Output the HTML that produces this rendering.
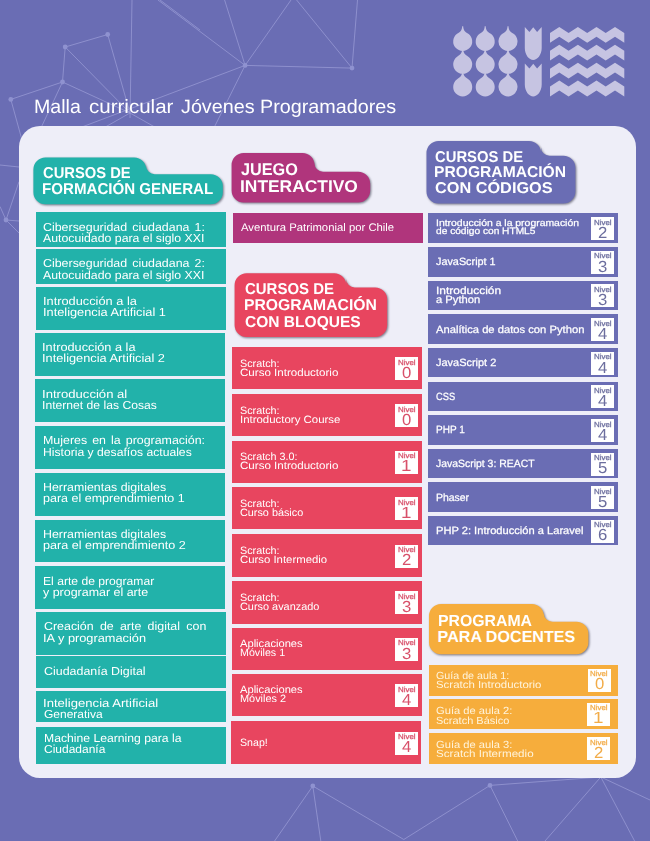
<!DOCTYPE html>
<html lang="es"><head><meta charset="utf-8"><title>Malla curricular Jóvenes Programadores</title><style>
html,body{margin:0;padding:0}
body{width:650px;height:841px;position:relative;overflow:hidden;background:#6a6db4;font-family:"Liberation Sans",sans-serif}
.bg{position:absolute;left:0;top:0}
.panel{position:absolute;left:19px;top:126px;width:617px;height:652px;background:#eeeef8;border-radius:21px}
.r{position:absolute}
.n{position:absolute;width:23px;height:23px;background:#fff}
.t{position:absolute;white-space:nowrap;line-height:1;color:#fff;text-rendering:geometricPrecision;transform-origin:0 0}
.s{-webkit-text-stroke:.25px currentColor}
.h{position:absolute;left:0;top:0;filter:drop-shadow(1.3px 1.4px 1.3px rgba(40,40,60,.6))}
</style></head><body>
<svg class="bg" width="650" height="841" viewBox="0 0 650 841"><g stroke="#a6a8de" stroke-width="0.7" fill="none" opacity="0.85"><line x1="107.7" y1="34.5" x2="65.2" y2="47"/><line x1="65.2" y1="47" x2="62.5" y2="82"/><line x1="62.5" y1="82" x2="10.8" y2="99.4"/><line x1="107.7" y1="34.5" x2="130" y2="113"/><line x1="65.2" y1="47" x2="130" y2="113"/><line x1="62.5" y1="82" x2="130" y2="113"/><line x1="132" y1="0" x2="130" y2="118"/><line x1="10.8" y1="99.4" x2="22" y2="140"/><line x1="62.5" y1="82" x2="40" y2="130"/><line x1="160" y1="0" x2="200" y2="30"/><line x1="158" y1="0" x2="245.1" y2="65.4"/><line x1="224.6" y1="0" x2="245.1" y2="65.4"/><line x1="291" y1="0" x2="245.1" y2="65.4"/><line x1="296.6" y1="0" x2="352" y2="68.1"/><line x1="357.5" y1="0" x2="352" y2="68.1"/><line x1="245.1" y1="65.4" x2="352" y2="68.1"/><line x1="245.1" y1="65.4" x2="73.9" y2="130"/><line x1="245.1" y1="65.4" x2="212.9" y2="130"/><line x1="130" y1="113" x2="100" y2="130"/><line x1="130" y1="113" x2="160" y2="130"/><line x1="6" y1="220" x2="19" y2="181.7"/><line x1="6" y1="220" x2="19" y2="221"/><line x1="6" y1="220" x2="19" y2="233"/><line x1="6" y1="220" x2="0" y2="206.5"/><line x1="0" y1="165" x2="19" y2="167"/><line x1="312.8" y1="786" x2="274.6" y2="841"/><line x1="312.8" y1="786" x2="320.8" y2="841"/><line x1="312.8" y1="786" x2="403.8" y2="839.5"/><line x1="403.8" y1="839.5" x2="490" y2="785.4"/><line x1="490" y1="785.4" x2="517.7" y2="841"/><line x1="490" y1="785.4" x2="600.8" y2="777"/><line x1="600.8" y1="777" x2="545" y2="841"/><line x1="600.8" y1="777" x2="634.6" y2="841"/><line x1="600.8" y1="777" x2="650" y2="800"/></g><g fill="#8f92d0"><circle cx="107.7" cy="34.5" r="2.4"/><circle cx="65.2" cy="47" r="2.4"/><circle cx="62.5" cy="82" r="2.4"/><circle cx="10.8" cy="99.4" r="2.4"/><circle cx="312.8" cy="786" r="2.4"/><circle cx="490" cy="785.4" r="2.4"/><circle cx="245.1" cy="65.4" r="2.4"/><circle cx="352" cy="68.1" r="2.4"/><circle cx="6" cy="220" r="2.4"/></g><g fill="#c6c4e2"><path d="M462.2,26.20 H463.2 C463.5,30.20 464.5,31.70 468.3,33.83 A9.5,9.5 0 1 1 457.09999999999997,33.83 C460.9,31.70 461.9,30.20 462.2,26.20 Z"/><path d="M462.2,49.00 H463.2 C463.5,53.00 464.5,54.50 468.3,56.63 A9.5,9.5 0 1 1 457.09999999999997,56.63 C460.9,54.50 461.9,53.00 462.2,49.00 Z"/><path d="M462.2,71.60 H463.2 C463.5,75.60 464.5,77.10 468.3,79.23 A9.5,9.5 0 1 1 457.09999999999997,79.23 C460.9,77.10 461.9,75.60 462.2,71.60 Z"/><path d="M484.7,26.20 H485.7 C486.0,30.20 487.0,31.70 490.8,33.83 A9.5,9.5 0 1 1 479.59999999999997,33.83 C483.4,31.70 484.4,30.20 484.7,26.20 Z"/><path d="M484.7,49.00 H485.7 C486.0,53.00 487.0,54.50 490.8,56.63 A9.5,9.5 0 1 1 479.59999999999997,56.63 C483.4,54.50 484.4,53.00 484.7,49.00 Z"/><path d="M484.7,71.60 H485.7 C486.0,75.60 487.0,77.10 490.8,79.23 A9.5,9.5 0 1 1 479.59999999999997,79.23 C483.4,77.10 484.4,75.60 484.7,71.60 Z"/><path d="M507.5,26.20 H508.5 C508.8,30.20 509.8,31.70 513.6,33.83 A9.5,9.5 0 1 1 502.4,33.83 C506.2,31.70 507.2,30.20 507.5,26.20 Z"/><path d="M507.5,49.00 H508.5 C508.8,53.00 509.8,54.50 513.6,56.63 A9.5,9.5 0 1 1 502.4,56.63 C506.2,54.50 507.2,53.00 507.5,49.00 Z"/><path d="M507.5,71.60 H508.5 C508.8,75.60 509.8,77.10 513.6,79.23 A9.5,9.5 0 1 1 502.4,79.23 C506.2,77.10 507.2,75.60 507.5,71.60 Z"/><path d="M524.8,26.9 L529.4,31.9 L533.25,27.2 L537.1,31.9 L541.7,26.9 V47.9 C541.7,54.9 537.2,59.9 533.25,59.9 C529.2,59.9 524.8,54.9 524.8,47.9 Z"/><path d="M524.8,63.5 L529.4,68.5 L533.25,63.8 L537.1,68.5 L541.7,63.5 V84.5 C541.7,91.5 537.2,96.5 533.25,96.5 C529.2,96.5 524.8,91.5 524.8,84.5 Z"/><polygon points="550.0,33.0 559.3,27.0 568.6,33.0 577.9,27.0 587.2,33.0 596.5,27.0 605.7,33.0 615.0,27.0 624.3,33.0 624.3,42.8 615.0,36.8 605.7,42.8 596.5,36.8 587.2,42.8 577.9,36.8 568.6,42.8 559.3,36.8 550.0,42.8"/><polygon points="550.0,50.8 559.3,44.8 568.6,50.8 577.9,44.8 587.2,50.8 596.5,44.8 605.7,50.8 615.0,44.8 624.3,50.8 624.3,60.6 615.0,54.6 605.7,60.6 596.5,54.6 587.2,60.6 577.9,54.6 568.6,60.6 559.3,54.6 550.0,60.6"/><polygon points="550.0,68.8 559.3,62.8 568.6,68.8 577.9,62.8 587.2,68.8 596.5,62.8 605.7,68.8 615.0,62.8 624.3,68.8 624.3,78.6 615.0,72.6 605.7,78.6 596.5,72.6 587.2,78.6 577.9,72.6 568.6,78.6 559.3,72.6 550.0,78.6"/><polygon points="550.0,86.6 559.3,80.6 568.6,86.6 577.9,80.6 587.2,86.6 596.5,80.6 605.7,86.6 615.0,80.6 624.3,86.6 624.3,96.4 615.0,90.4 605.7,96.4 596.5,90.4 587.2,96.4 577.9,90.4 568.6,96.4 559.3,90.4 550.0,96.4"/></g></svg>
<div class="panel"></div>
<div class="r" style="left:36.2px;top:212.1px;width:190.0px;height:34.5px;background:#22b2aa"></div>
<div class="r" style="left:36.2px;top:249.0px;width:190.0px;height:34.7px;background:#22b2aa"></div>
<div class="r" style="left:36.2px;top:287.0px;width:190.0px;height:42.7px;background:#22b2aa"></div>
<div class="r" style="left:35.0px;top:333.3px;width:189.8px;height:42.4px;background:#22b2aa"></div>
<div class="r" style="left:35.0px;top:379.4px;width:189.8px;height:42.4px;background:#22b2aa"></div>
<div class="r" style="left:35.0px;top:426.0px;width:189.8px;height:42.7px;background:#22b2aa"></div>
<div class="r" style="left:35.0px;top:473.0px;width:189.8px;height:42.6px;background:#22b2aa"></div>
<div class="r" style="left:35.0px;top:519.7px;width:189.8px;height:42.6px;background:#22b2aa"></div>
<div class="r" style="left:35.0px;top:566.1px;width:189.8px;height:42.7px;background:#22b2aa"></div>
<div class="r" style="left:36.2px;top:612.3px;width:190.0px;height:42.3px;background:#22b2aa"></div>
<div class="r" style="left:36.2px;top:656.3px;width:190.0px;height:31.4px;background:#22b2aa"></div>
<div class="r" style="left:36.2px;top:691.3px;width:190.0px;height:31.0px;background:#22b2aa"></div>
<div class="r" style="left:36.2px;top:727.0px;width:190.0px;height:36.8px;background:#22b2aa"></div>
<div class="r" style="left:233.1px;top:213.2px;width:189.9px;height:29.4px;background:#b0357c"></div>
<div class="r" style="left:232.1px;top:347.3px;width:189.7px;height:41.9px;background:#e8455f"></div>
<div class="r" style="left:232.1px;top:393.9px;width:189.7px;height:42.3px;background:#e8455f"></div>
<div class="r" style="left:232.1px;top:440.6px;width:189.7px;height:42.0px;background:#e8455f"></div>
<div class="r" style="left:232.1px;top:487.2px;width:189.7px;height:42.1px;background:#e8455f"></div>
<div class="r" style="left:232.1px;top:534.0px;width:189.7px;height:42.7px;background:#e8455f"></div>
<div class="r" style="left:232.1px;top:581.0px;width:189.7px;height:42.5px;background:#e8455f"></div>
<div class="r" style="left:232.1px;top:627.6px;width:189.7px;height:42.3px;background:#e8455f"></div>
<div class="r" style="left:232.1px;top:674.1px;width:189.7px;height:42.1px;background:#e8455f"></div>
<div class="r" style="left:231.0px;top:721.0px;width:189.8px;height:42.7px;background:#e8455f"></div>
<div class="r" style="left:428.0px;top:213.3px;width:189.8px;height:29.5px;background:#6a6db4"></div>
<div class="r" style="left:428.0px;top:247.2px;width:189.8px;height:29.4px;background:#6a6db4"></div>
<div class="r" style="left:428.0px;top:280.5px;width:189.8px;height:29.3px;background:#6a6db4"></div>
<div class="r" style="left:428.0px;top:314.0px;width:189.8px;height:29.8px;background:#6a6db4"></div>
<div class="r" style="left:428.0px;top:348.2px;width:189.8px;height:29.3px;background:#6a6db4"></div>
<div class="r" style="left:428.0px;top:381.5px;width:189.8px;height:29.2px;background:#6a6db4"></div>
<div class="r" style="left:428.0px;top:415.2px;width:189.8px;height:29.5px;background:#6a6db4"></div>
<div class="r" style="left:428.0px;top:449.1px;width:189.8px;height:29.3px;background:#6a6db4"></div>
<div class="r" style="left:428.0px;top:482.3px;width:189.8px;height:29.3px;background:#6a6db4"></div>
<div class="r" style="left:428.0px;top:516.1px;width:189.8px;height:29.4px;background:#6a6db4"></div>
<div class="r" style="left:428.5px;top:664.8px;width:189.5px;height:30.8px;background:#f6ad3c"></div>
<div class="r" style="left:428.5px;top:699.3px;width:189.5px;height:29.9px;background:#f6ad3c"></div>
<div class="r" style="left:428.5px;top:733.2px;width:189.5px;height:30.7px;background:#f6ad3c"></div>
<svg class="h" width="650" height="841" viewBox="0 0 650 841"><path d="M45.4,157.6 H134.2 A12,12 0 0 1 146.2,169.6 V165.8 A8.5,8.5 0 0 0 154.7,174.3 H210.8 A12,12 0 0 1 222.8,186.3 V192.2 A12,12 0 0 1 210.8,204.2 H45.4 A12,12 0 0 1 33.4,192.2 V169.6 A12,12 0 0 1 45.4,157.6 Z" fill="#22b2aa"/><path d="M243.6,153 H302.5 A12,12 0 0 1 314.5,165 V163.3 A8.5,8.5 0 0 0 323.0,171.8 H358.2 A12,12 0 0 1 370.2,183.8 V190.6 A12,12 0 0 1 358.2,202.6 H243.6 A12,12 0 0 1 231.6,190.6 V165 A12,12 0 0 1 243.6,153 Z" fill="#b0357c"/><path d="M438.5,141 H529 A12,12 0 0 1 541,153 V147.3 A8.5,8.5 0 0 0 549.5,155.8 H563.4 A12,12 0 0 1 575.4,167.8 V191.6 A12,12 0 0 1 563.4,203.6 H438.5 A12,12 0 0 1 426.5,191.6 V153 A12,12 0 0 1 438.5,141 Z" fill="#6a6db4"/><path d="M246.6,273.2 H334.2 A12,12 0 0 1 346.2,285.2 V279.0 A8.5,8.5 0 0 0 354.7,287.5 H375.2 A12,12 0 0 1 387.2,299.5 V325 A12,12 0 0 1 375.2,337 H246.6 A12,12 0 0 1 234.6,325 V285.2 A12,12 0 0 1 246.6,273.2 Z" fill="#e8455f"/><path d="M441,604 H531.8 A12,12 0 0 1 543.8,616 V613.3 A8.5,8.5 0 0 0 552.3,621.8 H576.4 A12,12 0 0 1 588.4,633.8 V642.3 A12,12 0 0 1 576.4,654.3 H441 A12,12 0 0 1 429,642.3 V616 A12,12 0 0 1 441,604 Z" fill="#f6ad3c"/></svg>
<div class="n" style="left:395.3px;top:357.4px"></div>
<div class="n" style="left:395.3px;top:404.1px"></div>
<div class="n" style="left:395.3px;top:450.7px"></div>
<div class="n" style="left:395.3px;top:497.4px"></div>
<div class="n" style="left:395.3px;top:544.5px"></div>
<div class="n" style="left:395.3px;top:591.4px"></div>
<div class="n" style="left:395.3px;top:637.9px"></div>
<div class="n" style="left:395.3px;top:684.3px"></div>
<div class="n" style="left:395.3px;top:731.5px"></div>
<div class="n" style="left:591.0px;top:217.1px"></div>
<div class="n" style="left:591.0px;top:250.9px"></div>
<div class="n" style="left:591.0px;top:284.1px"></div>
<div class="n" style="left:591.0px;top:317.9px"></div>
<div class="n" style="left:591.0px;top:351.9px"></div>
<div class="n" style="left:591.0px;top:385.1px"></div>
<div class="n" style="left:591.0px;top:418.9px"></div>
<div class="n" style="left:591.0px;top:452.8px"></div>
<div class="n" style="left:591.0px;top:486.0px"></div>
<div class="n" style="left:591.0px;top:519.8px"></div>
<div class="n" style="left:587.8px;top:668.6px"></div>
<div class="n" style="left:587.0px;top:702.6px"></div>
<div class="n" style="left:587.0px;top:736.9px"></div>
<span class="t" style="left:34.4px;top:98px;font-size:19.2px;transform:scaleX(1.020)">Malla</span>
<span class="t" style="left:88.5px;top:98px;font-size:19.2px;transform:scaleX(1.070)">curricular</span>
<span class="t" style="left:180.6px;top:98px;font-size:19.2px;transform:scaleX(1.030)">Jóvenes</span>
<span class="t" style="left:260.0px;top:98px;font-size:19.2px;transform:scaleX(1.030)">Programadores</span>
<span class="t" style="left:43.4px;top:222px;font-size:11.6px;word-spacing:1.50px;transform:scaleX(1.070)">Ciberseguridad ciudadana 1:</span>
<span class="t" style="left:43.4px;top:233px;font-size:11.6px;transform:scaleX(1.061)">Autocuidado para el siglo XXI</span>
<span class="t" style="left:43.4px;top:258px;font-size:11.6px;word-spacing:1.50px;transform:scaleX(1.070)">Ciberseguridad ciudadana 2:</span>
<span class="t" style="left:43.4px;top:270px;font-size:11.6px;transform:scaleX(1.061)">Autocuidado para el siglo XXI</span>
<span class="t" style="left:43.0px;top:296px;font-size:11.6px;transform:scaleX(1.103)">Introducción a la</span>
<span class="t" style="left:43.0px;top:307px;font-size:11.6px;transform:scaleX(1.103)">Inteligencia Artificial 1</span>
<span class="t" style="left:42.0px;top:342px;font-size:11.6px;transform:scaleX(1.099)">Introducción a la</span>
<span class="t" style="left:42.0px;top:353px;font-size:11.6px;transform:scaleX(1.103)">Inteligencia Artificial 2</span>
<span class="t" style="left:42.0px;top:389px;font-size:11.6px;transform:scaleX(1.131)">Introducción al</span>
<span class="t" style="left:42.1px;top:400px;font-size:11.6px;transform:scaleX(1.048)">Internet de las Cosas</span>
<span class="t" style="left:42.7px;top:435px;font-size:11.6px;word-spacing:1.50px;transform:scaleX(1.070)">Mujeres en la programación:</span>
<span class="t" style="left:42.7px;top:447px;font-size:11.6px;transform:scaleX(1.049)">Historia y desafíos actuales</span>
<span class="t" style="left:42.9px;top:482px;font-size:11.6px;transform:scaleX(1.067)">Herramientas digitales</span>
<span class="t" style="left:42.9px;top:493px;font-size:11.6px;transform:scaleX(1.078)">para el emprendimiento 1</span>
<span class="t" style="left:42.9px;top:529px;font-size:11.6px;transform:scaleX(1.067)">Herramientas digitales</span>
<span class="t" style="left:42.9px;top:540px;font-size:11.6px;transform:scaleX(1.085)">para el emprendimiento 2</span>
<span class="t" style="left:43.0px;top:576px;font-size:11.6px;transform:scaleX(1.046)">El arte de programar</span>
<span class="t" style="left:43.0px;top:587px;font-size:11.6px;transform:scaleX(1.073)">y programar el arte</span>
<span class="t" style="left:43.7px;top:621px;font-size:11.6px;word-spacing:2.63px;transform:scaleX(1.070)">Creación de arte digital con</span>
<span class="t" style="left:42.6px;top:633px;font-size:11.6px;transform:scaleX(1.103)">IA y programación</span>
<span class="t" style="left:43.7px;top:666px;font-size:11.6px;transform:scaleX(1.072)">Ciudadanía Digital</span>
<span class="t" style="left:43.3px;top:698px;font-size:11.6px;transform:scaleX(1.131)">Inteligencia Artificial</span>
<span class="t" style="left:44.4px;top:709px;font-size:11.6px;transform:scaleX(1.034)">Generativa</span>
<span class="t" style="left:44.4px;top:733px;font-size:11.6px;transform:scaleX(1.051)">Machine Learning para la</span>
<span class="t" style="left:44.4px;top:744px;font-size:11.6px;transform:scaleX(1.034)">Ciudadanía</span>
<span class="t" style="left:241.2px;top:223px;font-size:11px;transform:scaleX(1.028)">Aventura Patrimonial por Chile</span>
<span class="t" style="left:240.2px;top:359px;font-size:10.6px;transform:scaleX(1.018)">Scratch:</span>
<span class="t" style="left:240.2px;top:368px;font-size:10.6px;transform:scaleX(1.092)">Curso Introductorio</span>
<span class="t" style="left:240.2px;top:406px;font-size:10.6px;transform:scaleX(1.018)">Scratch:</span>
<span class="t" style="left:240.2px;top:415px;font-size:10.6px;transform:scaleX(1.079)">Introductory Course</span>
<span class="t" style="left:240.2px;top:452px;font-size:10.6px;transform:scaleX(1.016)">Scratch 3.0:</span>
<span class="t" style="left:240.2px;top:461px;font-size:10.6px;transform:scaleX(1.092)">Curso Introductorio</span>
<span class="t" style="left:240.2px;top:499px;font-size:10.6px;transform:scaleX(1.018)">Scratch:</span>
<span class="t" style="left:240.2px;top:508px;font-size:10.6px;transform:scaleX(1.022)">Curso básico</span>
<span class="t" style="left:240.2px;top:546px;font-size:10.6px;transform:scaleX(1.018)">Scratch:</span>
<span class="t" style="left:240.2px;top:555px;font-size:10.6px;transform:scaleX(1.072)">Curso Intermedio</span>
<span class="t" style="left:240.2px;top:593px;font-size:10.6px;transform:scaleX(1.018)">Scratch:</span>
<span class="t" style="left:240.2px;top:602px;font-size:10.6px;transform:scaleX(1.029)">Curso avanzado</span>
<span class="t" style="left:240.2px;top:639px;font-size:10.6px;transform:scaleX(1.053)">Aplicaciones</span>
<span class="t" style="left:240.2px;top:648px;font-size:10.6px;transform:scaleX(1.008)">Móviles 1</span>
<span class="t" style="left:240.2px;top:685px;font-size:10.6px;transform:scaleX(1.053)">Aplicaciones</span>
<span class="t" style="left:240.2px;top:694px;font-size:10.6px;transform:scaleX(1.030)">Móviles 2</span>
<span class="t" style="left:240.2px;top:738px;font-size:10.6px;transform:scaleX(1.002)">Snap!</span>
<span class="t s" style="left:435.5px;top:218px;font-size:9.4px;transform:scaleX(1.111)">Introducción a la programación</span>
<span class="t s" style="left:435.5px;top:226px;font-size:9.4px;transform:scaleX(1.084)">de código con HTML5</span>
<span class="t s" style="left:435.5px;top:257px;font-size:10.5px;transform:scaleX(1.032)">JavaScript 1</span>
<span class="t s" style="left:435.5px;top:286px;font-size:10.5px;transform:scaleX(1.138)">Introducción</span>
<span class="t s" style="left:435.5px;top:295px;font-size:10.5px;transform:scaleX(1.065)">a Python</span>
<span class="t s" style="left:435.5px;top:325px;font-size:10.5px;transform:scaleX(1.068)">Analítica de datos con Python</span>
<span class="t s" style="left:435.5px;top:358px;font-size:10.5px;transform:scaleX(1.043)">JavaScript 2</span>
<span class="t s" style="left:435.5px;top:392px;font-size:10.5px;transform:scaleX(0.885)">CSS</span>
<span class="t s" style="left:435.5px;top:425px;font-size:10.5px;transform:scaleX(0.953)">PHP 1</span>
<span class="t s" style="left:435.5px;top:459px;font-size:10.5px;transform:scaleX(0.994)">JavaScript 3: REACT</span>
<span class="t s" style="left:435.5px;top:493px;font-size:10.5px;transform:scaleX(0.995)">Phaser</span>
<span class="t s" style="left:435.5px;top:526px;font-size:10.5px;transform:scaleX(1.059)">PHP 2:  Introducción a Laravel</span>
<span class="t" style="left:436.1px;top:672px;font-size:10.3px;color:#fff4dc;transform:scaleX(1.039)">Guía de aula 1:</span>
<span class="t" style="left:436.1px;top:681px;font-size:10.3px;color:#fff4dc;transform:scaleX(1.110)">Scratch Introductorio</span>
<span class="t" style="left:436.1px;top:707px;font-size:10.3px;color:#fff4dc;transform:scaleX(1.083)">Guía de aula 2:</span>
<span class="t" style="left:436.1px;top:717px;font-size:10.3px;color:#fff4dc;transform:scaleX(1.067)">Scratch Básico</span>
<span class="t" style="left:436.1px;top:741px;font-size:10.3px;color:#fff4dc;transform:scaleX(1.083)">Guía de aula 3:</span>
<span class="t" style="left:436.1px;top:750px;font-size:10.3px;color:#fff4dc;transform:scaleX(1.130)">Scratch Intermedio</span>
<span class="t" style="left:42.8px;top:166px;font-size:15.7px;font-weight:700;transform:scaleX(0.940)">CURSOS DE</span>
<span class="t" style="left:41.8px;top:182px;font-size:15.7px;font-weight:700;transform:scaleX(0.963)">FORMACIÓN GENERAL</span>
<span class="t" style="left:241.2px;top:161px;font-size:17px;font-weight:700;transform:scaleX(0.955)">JUEGO</span>
<span class="t" style="left:240.2px;top:178px;font-size:17px;font-weight:700;transform:scaleX(1.023)">INTERACTIVO</span>
<span class="t" style="left:435.0px;top:150px;font-size:15.6px;font-weight:700;transform:scaleX(0.950)">CURSOS DE</span>
<span class="t" style="left:434.0px;top:165px;font-size:15.6px;font-weight:700;transform:scaleX(1.003)">PROGRAMACIÓN</span>
<span class="t" style="left:435.0px;top:181px;font-size:15.6px;font-weight:700;transform:scaleX(1.044)">CON CÓDIGOS</span>
<span class="t" style="left:244.7px;top:282px;font-size:15.7px;font-weight:700;transform:scaleX(0.954)">CURSOS DE</span>
<span class="t" style="left:243.7px;top:298px;font-size:15.7px;font-weight:700;transform:scaleX(1.003)">PROGRAMACIÓN</span>
<span class="t" style="left:244.7px;top:315px;font-size:15.7px;font-weight:700;transform:scaleX(0.991)">CON BLOQUES</span>
<span class="t" style="left:437.6px;top:613px;font-size:16.1px;font-weight:700;transform:scaleX(0.983)">PROGRAMA</span>
<span class="t" style="left:437.6px;top:629px;font-size:16.1px;font-weight:700;transform:scaleX(1.000)">PARA DOCENTES</span>
<span class="t s" style="left:397.8px;top:359px;font-size:7.3px;color:#d8506a;transform:scaleX(1.085)">Nivel</span>
<span class="t" style="left:402.1px;top:366px;font-size:16px;color:#d8506a;transform:scaleX(1.044)">0</span>
<span class="t s" style="left:397.8px;top:406px;font-size:7.3px;color:#d8506a;transform:scaleX(1.085)">Nivel</span>
<span class="t" style="left:402.1px;top:413px;font-size:16px;color:#d8506a;transform:scaleX(1.044)">0</span>
<span class="t s" style="left:397.8px;top:452px;font-size:7.3px;color:#d8506a;transform:scaleX(1.085)">Nivel</span>
<span class="t" style="left:400.9px;top:459px;font-size:16px;color:#d8506a;transform:scaleX(1.175)">1</span>
<span class="t s" style="left:397.8px;top:499px;font-size:7.3px;color:#d8506a;transform:scaleX(1.085)">Nivel</span>
<span class="t" style="left:400.9px;top:506px;font-size:16px;color:#d8506a;transform:scaleX(1.175)">1</span>
<span class="t s" style="left:397.8px;top:546px;font-size:7.3px;color:#d8506a;transform:scaleX(1.085)">Nivel</span>
<span class="t" style="left:402.1px;top:553px;font-size:16px;color:#d8506a;transform:scaleX(1.044)">2</span>
<span class="t s" style="left:397.8px;top:593px;font-size:7.3px;color:#d8506a;transform:scaleX(1.085)">Nivel</span>
<span class="t" style="left:402.1px;top:600px;font-size:16px;color:#d8506a;transform:scaleX(1.044)">3</span>
<span class="t s" style="left:397.8px;top:639px;font-size:7.3px;color:#d8506a;transform:scaleX(1.085)">Nivel</span>
<span class="t" style="left:402.1px;top:647px;font-size:16px;color:#d8506a;transform:scaleX(1.044)">3</span>
<span class="t s" style="left:397.8px;top:686px;font-size:7.3px;color:#d8506a;transform:scaleX(1.085)">Nivel</span>
<span class="t" style="left:402.1px;top:693px;font-size:16px;color:#d8506a;transform:scaleX(1.044)">4</span>
<span class="t s" style="left:397.8px;top:733px;font-size:7.3px;color:#d8506a;transform:scaleX(1.085)">Nivel</span>
<span class="t" style="left:402.1px;top:740px;font-size:16px;color:#d8506a;transform:scaleX(1.044)">4</span>
<span class="t s" style="left:593.5px;top:219px;font-size:7.3px;color:#6c6e9e;transform:scaleX(1.085)">Nivel</span>
<span class="t" style="left:597.8px;top:226px;font-size:16px;color:#6c6e9e;transform:scaleX(1.044)">2</span>
<span class="t s" style="left:593.5px;top:252px;font-size:7.3px;color:#6c6e9e;transform:scaleX(1.085)">Nivel</span>
<span class="t" style="left:597.8px;top:260px;font-size:16px;color:#6c6e9e;transform:scaleX(1.044)">3</span>
<span class="t s" style="left:593.5px;top:286px;font-size:7.3px;color:#6c6e9e;transform:scaleX(1.085)">Nivel</span>
<span class="t" style="left:597.8px;top:293px;font-size:16px;color:#6c6e9e;transform:scaleX(1.044)">3</span>
<span class="t s" style="left:593.5px;top:320px;font-size:7.3px;color:#6c6e9e;transform:scaleX(1.085)">Nivel</span>
<span class="t" style="left:597.8px;top:327px;font-size:16px;color:#6c6e9e;transform:scaleX(1.044)">4</span>
<span class="t s" style="left:593.5px;top:353px;font-size:7.3px;color:#6c6e9e;transform:scaleX(1.085)">Nivel</span>
<span class="t" style="left:597.8px;top:361px;font-size:16px;color:#6c6e9e;transform:scaleX(1.044)">4</span>
<span class="t s" style="left:593.5px;top:387px;font-size:7.3px;color:#6c6e9e;transform:scaleX(1.085)">Nivel</span>
<span class="t" style="left:597.8px;top:394px;font-size:16px;color:#6c6e9e;transform:scaleX(1.044)">4</span>
<span class="t s" style="left:593.5px;top:421px;font-size:7.3px;color:#6c6e9e;transform:scaleX(1.085)">Nivel</span>
<span class="t" style="left:597.8px;top:428px;font-size:16px;color:#6c6e9e;transform:scaleX(1.044)">4</span>
<span class="t s" style="left:593.5px;top:454px;font-size:7.3px;color:#6c6e9e;transform:scaleX(1.085)">Nivel</span>
<span class="t" style="left:597.8px;top:461px;font-size:16px;color:#6c6e9e;transform:scaleX(1.044)">5</span>
<span class="t s" style="left:593.5px;top:488px;font-size:7.3px;color:#6c6e9e;transform:scaleX(1.085)">Nivel</span>
<span class="t" style="left:597.8px;top:495px;font-size:16px;color:#6c6e9e;transform:scaleX(1.044)">5</span>
<span class="t s" style="left:593.5px;top:521px;font-size:7.3px;color:#6c6e9e;transform:scaleX(1.085)">Nivel</span>
<span class="t" style="left:597.8px;top:528px;font-size:16px;color:#6c6e9e;transform:scaleX(1.044)">6</span>
<span class="t s" style="left:590.3px;top:670px;font-size:7.3px;color:#f2ac48;transform:scaleX(1.085)">Nivel</span>
<span class="t" style="left:594.6px;top:677px;font-size:16px;color:#f2ac48;transform:scaleX(1.044)">0</span>
<span class="t s" style="left:589.5px;top:704px;font-size:7.3px;color:#f2ac48;transform:scaleX(1.085)">Nivel</span>
<span class="t" style="left:592.6px;top:711px;font-size:16px;color:#f2ac48;transform:scaleX(1.175)">1</span>
<span class="t s" style="left:589.5px;top:739px;font-size:7.3px;color:#f2ac48;transform:scaleX(1.085)">Nivel</span>
<span class="t" style="left:593.8px;top:746px;font-size:16px;color:#f2ac48;transform:scaleX(1.044)">2</span>
</body></html>
